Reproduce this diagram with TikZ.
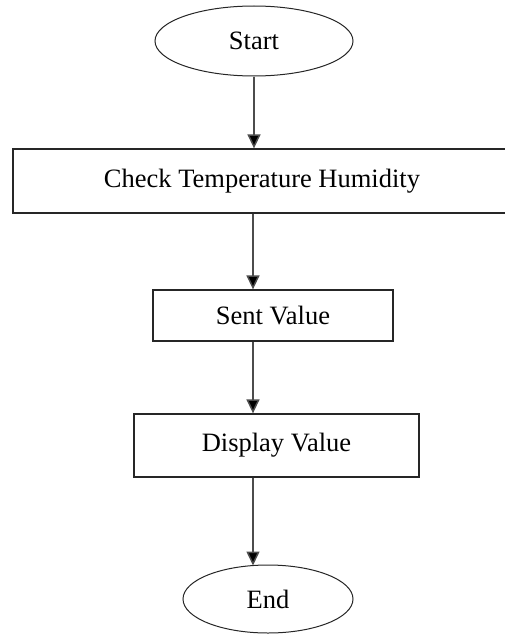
\documentclass[tikz,border=0pt]{standalone}
\usepackage{fontspec}
\setmainfont{Liberation Serif}
\usetikzlibrary{shapes.geometric,arrows.meta}
\tikzset{
  every node/.style={font=\fontsize{26.5}{32}\selectfont, inner sep=0pt},
  procbox/.style={draw=black!85, line width=1.3pt, rectangle},
  terminal/.style={draw=black!85, line width=1pt, ellipse},
  flow/.style={draw=black!70, line width=1.5pt,
    -{Triangle[length=14pt,width=13pt,fill=black]}}
}
\begin{document}
\begin{tikzpicture}[x=1pt,y=-1pt]
  \useasboundingbox (0,0) rectangle (505,634);

  % start / end terminals
  \node[terminal, minimum width=198pt, minimum height=70pt] (start) at (254,41) {Start};
  \node[terminal, minimum width=170pt, minimum height=68pt] (stop) at (268,599) {End};

  % process steps
  \node[procbox, minimum width=498pt, minimum height=64pt] (check) at (262,181) {Check Temperature Humidity};
  \node[procbox, minimum width=240pt, minimum height=51pt] (sent) at (273,315.5) {Sent Value};
  \node[procbox, minimum width=285pt, minimum height=63pt] (disp) at (276.5,445.5) {Display Value};

  % vertical spine shared by the lower connectors
  \coordinate (spine) at (253,0);

  % connectors
  \draw[flow] (start.south) -- (check.north -| start.south);
  \draw[flow] (check.south -| spine) -- (sent.north -| spine);
  \draw[flow] (sent.south -| spine) -- (disp.north -| spine);
  \draw[flow] (disp.south -| spine) -- ([yshift=-1pt]stop.north -| spine);
\end{tikzpicture}
\end{document}
